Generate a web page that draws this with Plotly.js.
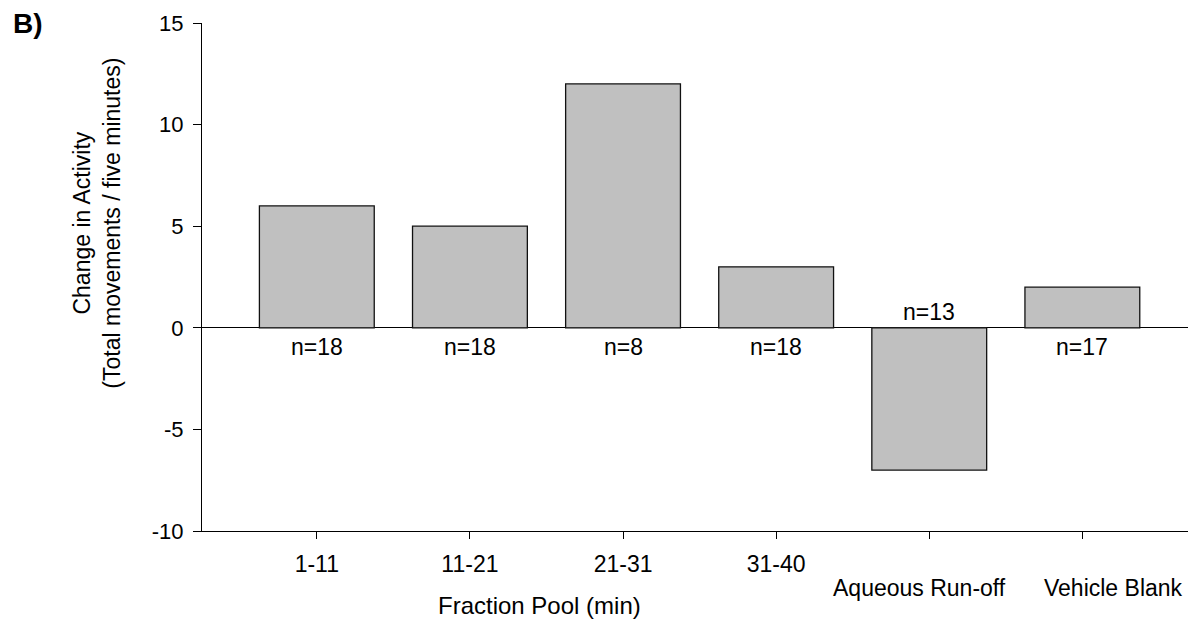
<!DOCTYPE html>
<html>
<head>
<meta charset="utf-8">
<script src="https://cdn.plot.ly/plotly-3.0.1.min.js"></script>
<style>
  html, body { margin: 0; padding: 0; background: #ffffff; overflow: hidden; }
  #chart { width: 1188px; height: 619px; }
</style>
</head>
<body>
<div id="chart"></div>
<script>
// Fraction pools tested and the mean change in activity for each
const categories = ['1-11', '11-21', '21-31', '31-40', 'Aqueous Run-off', 'Vehicle Blank'];
const activityChange = [6, 5, 12, 3, -7, 2];
const sampleSizes = [18, 18, 8, 18, 13, 17];
// Fraction-pool labels go on the first row; the two controls get a lower row
const tickLabels = ['1-11', '11-21', '21-31', '31-40', '', ''];
const controlLabels = ['Aqueous Run-off', 'Vehicle Blank'];
const controlIdx = [4, 5];
const controlShift = [-10, 31];
// y tick values and labels (plain hyphen for negatives)
const yTickVals = [-10, -5, 0, 5, 10, 15];
const yTickText = ['-10', '-5', '0', '5', '10', '15'];

const FONT = 'Liberation Sans, Arial, Helvetica, sans-serif';
const xIdx = categories.map((_, i) => i);

const bars = {
  type: 'bar',
  x: xIdx,
  y: activityChange,
  width: 0.75,
  marker: { color: '#c0c0c0', line: { color: '#111111', width: 1.3 } },
  hoverinfo: 'skip'
};

// sample-size labels sit on the opposite side of the zero line from each bar
const nLabels = sampleSizes.map((n, i) => ({
  x: i, y: 0, xref: 'x', yref: 'y',
  text: 'n=' + n,
  showarrow: false,
  xanchor: 'center', yanchor: 'middle',
  yshift: activityChange[i] >= 0 ? -19 : 16,
  font: { family: FONT, size: 23, color: '#000' }
}));

// second-row category labels for the two control groups
const controlAnn = controlLabels.map((t, k) => ({
  x: controlIdx[k], xref: 'x', y: -0.113, yref: 'paper',
  text: t, showarrow: false,
  xanchor: 'center', yanchor: 'middle',
  xshift: controlShift[k],
  font: { family: FONT, size: 23, color: '#000' }
}));

const layout = {
  width: 1188, height: 619,
  margin: { l: 202, r: 0, t: 23, b: 88, pad: 0 },
  paper_bgcolor: '#ffffff', plot_bgcolor: '#ffffff',
  showlegend: false,
  font: { family: FONT, color: '#000' },
  xaxis: {
    range: [-0.75, 5.69],
    tickmode: 'array', tickvals: xIdx, ticktext: tickLabels,
    ticks: 'outside', ticklen: 7, tickwidth: 1, tickcolor: '#000',
    ticklabelstandoff: 5,
    showline: true, linecolor: '#000', linewidth: 1,
    showgrid: false, zeroline: false,
    tickfont: { family: FONT, size: 23, color: '#000' },
    fixedrange: true
  },
  yaxis: {
    range: [-10, 15],
    tickmode: 'array', tickvals: yTickVals, ticktext: yTickText,
    ticks: 'outside', ticklen: 8, tickwidth: 1, tickcolor: '#000',
    ticklabelstandoff: 5,
    showline: true, linecolor: '#000', linewidth: 1,
    showgrid: false,
    zeroline: true, zerolinecolor: '#000', zerolinewidth: 1,
    tickfont: { family: FONT, size: 22, color: '#000' },
    fixedrange: true
  },
  annotations: nLabels.concat(controlAnn, [
    {
      xref: 'paper', yref: 'paper', x: -0.106, y: 0.606,
      text: 'Change in Activity<br>(Total movements / five minutes)',
      textangle: -90, showarrow: false, align: 'center',
      xanchor: 'center', yanchor: 'middle',
      font: { family: FONT, size: 23, color: '#000' }
    },
    {
      xref: 'paper', yref: 'paper', x: 0.342, y: -0.147,
      text: 'Fraction Pool (min)', showarrow: false,
      xanchor: 'center', yanchor: 'middle',
      font: { family: FONT, size: 24, color: '#000' }
    },
    {
      xref: 'paper', yref: 'paper', x: -0.194, y: 1.0,
      text: '<b>B)</b>', showarrow: false,
      xanchor: 'left', yanchor: 'middle',
      font: { family: FONT, size: 28, color: '#000' }
    }
  ])
};

Plotly.newPlot('chart', [bars], layout, { displayModeBar: false, staticPlot: true });
</script>
</body>
</html>
